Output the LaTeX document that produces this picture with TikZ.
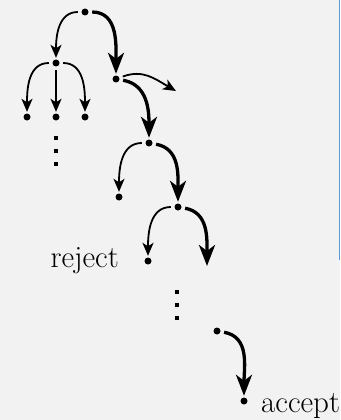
\documentclass[tikz,border=0pt]{standalone}
\usetikzlibrary{arrows.meta}
\definecolor{bg}{HTML}{F2F2F2}
\definecolor{edge}{HTML}{5B9BD5}
\begin{document}
\begin{tikzpicture}[x=1pt,y=-1pt,
  dot/.style={circle,fill=black,inner sep=0pt,minimum size=7pt},
  thinarr/.style={line width=1.8pt,-{Stealth[length=13pt,width=11pt,inset=3.5pt]},shorten <=3.5pt,shorten >=1.5pt,looseness=1.1},
  thickarr/.style={line width=3.3pt,-{Stealth[length=21pt,width=16pt,inset=6pt]},shorten <=3.5pt,shorten >=1.5pt,looseness=1.1},
  lbl/.style={font=\fontsize{31}{34}\selectfont,inner sep=0pt}]
\fill[bg] (0,0) rectangle (340,420);
\useasboundingbox (0,0) rectangle (340,420);
\draw[edge,line width=1pt] (339.5,0) -- (339.5,260);
% nodes
\node[dot] (r) at (85,12) {};
\node[dot] (l) at (56,63) {};
\node[dot] (l1) at (27,117) {};
\node[dot] (l2) at (56,117) {};
\node[dot] (l3) at (85,117) {};
\node[dot] (a) at (116,79) {};
\coordinate (aout) at (176,91);
\node[dot] (b) at (149,143) {};
\node[dot] (bl) at (119,197) {};
\node[dot] (c) at (178,207) {};
\node[dot] (cl) at (148,261) {};
\coordinate (cout) at (207,266);
\node[dot] (d) at (217,331) {};
\node[dot] (e) at (244,401) {};
% labels
\node[lbl,anchor=base east] (rej) at (119,267) {reject};
\node[lbl,anchor=base west] (acc) at (261,412) {accept};
% vdots
\foreach \y in {138,151,164} \fill (54,\y-2) rectangle +(4,4);
\foreach \y in {292,305,318} \fill (175,\y-2) rectangle +(4,4);
% arrows
\draw[thinarr] (r) to[out=180,in=90] (l);
\draw[thickarr] (r) to[out=0,in=90] (a);
\draw[thinarr] (l) to[out=180,in=90] (l1);
\draw[thinarr] (l) -- (l2);
\draw[thinarr] (l) to[out=0,in=90] (l3);
\draw[thinarr,shorten >=0pt] (a) to[out=20,in=150] (aout);
\draw[thickarr] (a) to[out=-10,in=90] (b);
\draw[thinarr] (b) to[out=180,in=90] (bl);
\draw[thickarr] (b) to[out=-10,in=90] (c);
\draw[thinarr] (c) to[out=180,in=90] (cl);
\draw[thickarr,shorten >=0pt] (c) to[out=-10,in=90] (cout);
\draw[thickarr] (d) to[out=-10,in=90] (e);
\end{tikzpicture}
\end{document}
